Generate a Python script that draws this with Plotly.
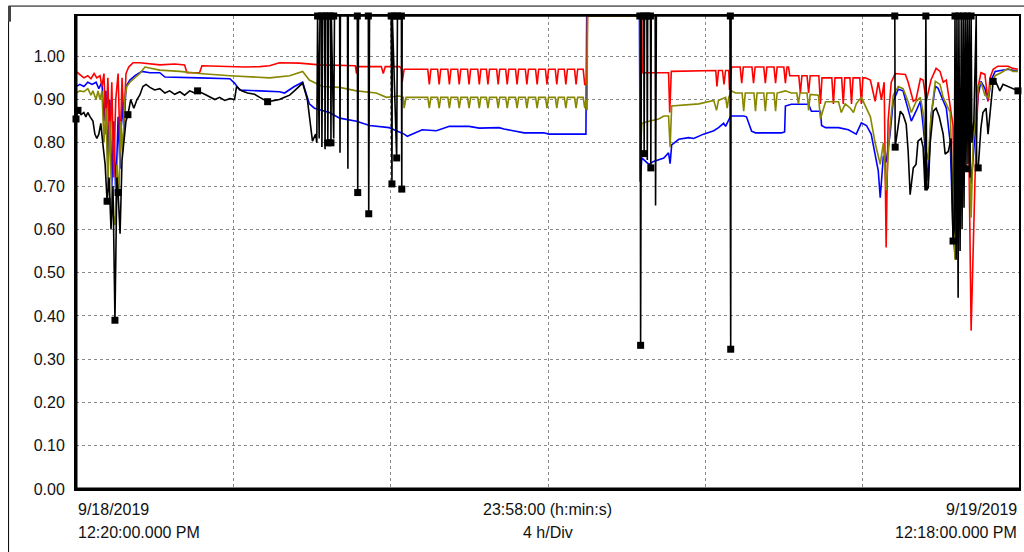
import plotly.graph_objects as go

# time in hours since 9/18/2019 12:20:00 PM, value
red = [
    (0.00,0.965),(0.10,0.958),(0.20,0.950),(0.30,0.955),(0.38,0.948),(0.46,0.960),(0.53,0.950),(0.61,0.955),
    (0.66,0.930),(0.71,0.960),(0.76,0.820),(0.81,0.950),(0.86,0.780),(0.91,0.940),(0.96,0.720),(1.01,0.900),
    (1.07,0.960),(1.12,0.780),(1.17,0.950),(1.22,0.850),(1.27,0.960),(1.34,0.975),(1.45,0.985),(1.62,0.985),
    (1.88,0.983),(2.13,0.980),(2.51,0.982),(2.76,0.980),(2.82,0.962),(3.14,0.962),(3.20,0.978),(3.91,0.976),
    (4.29,0.975),(4.67,0.976),(4.92,0.978),(5.17,0.985),(5.68,0.984),(6.19,0.980),(6.70,0.978),(7.10,0.978),
    (7.13,0.960),(7.15,0.976),(7.76,0.976),(7.81,0.960),(7.86,0.976),(8.22,0.976),(8.27,0.972),(8.29,0.940),
    (8.34,0.970),
    (8.94,0.970),(8.98,0.935),(9.02,0.970),(9.19,0.970),(9.23,0.935),(9.27,0.970),
    (9.45,0.970),(9.49,0.935),(9.53,0.970),(9.70,0.970),(9.74,0.935),(9.78,0.970),
    (9.95,0.970),(9.99,0.935),(10.03,0.970),(10.21,0.970),(10.25,0.935),(10.29,0.970),
    (10.43,0.970),(10.47,0.935),(10.51,0.970),(10.69,0.970),(10.73,0.935),(10.77,0.970),
    (10.92,0.970),(10.96,0.935),(11.00,0.970),(11.17,0.970),(11.21,0.935),(11.25,0.970),
    (11.42,0.970),(11.46,0.935),(11.50,0.970),(11.68,0.970),(11.72,0.935),(11.76,0.970),
    (11.93,0.970),(11.97,0.935),(12.01,0.970),(12.18,0.970),(12.22,0.935),(12.26,0.970),
    (12.41,0.970),(12.45,0.935),(12.49,0.970),(12.67,0.970),(12.71,0.935),(12.75,0.970),
    (12.89,0.970),(12.93,0.935),(12.98,0.935),(13.00,1.093),
    (14.38,1.093),(14.39,0.962),(15.06,0.962),(15.09,0.870),(15.13,0.965),(16.26,0.967),(16.29,0.930),
    (16.33,0.967),(16.43,0.967),(16.47,0.935),(16.51,0.967),(16.59,0.967),(16.61,0.922),(16.66,0.975),
    (16.88,0.975),(16.92,0.938),(16.96,0.975),(17.18,0.975),(17.22,0.938),(17.26,0.975),
    (17.48,0.975),(17.52,0.938),(17.56,0.975),(17.74,0.975),(17.78,0.938),(17.82,0.975),
    (17.99,0.975),(18.03,0.938),(18.07,0.975),(18.11,0.975),(18.14,0.955),
    (18.37,0.955),(18.41,0.915),(18.45,0.955),(18.58,0.955),(18.62,0.915),(18.66,0.955),
    (18.88,0.955),(18.92,0.890),(18.96,0.950),(19.21,0.950),(19.25,0.890),(19.29,0.950),
    (19.46,0.950),(19.50,0.890),(19.54,0.950),(19.67,0.950),(19.71,0.890),(19.75,0.950),
    (19.92,0.950),(19.96,0.890),(20.00,0.950),
    (20.06,0.950),(20.19,0.945),(20.31,0.896),(20.39,0.940),(20.47,0.900),(20.54,0.940),(20.59,0.558),
    (20.64,0.850),(20.72,0.940),(20.82,0.960),(21.08,0.958),(21.15,0.940),(21.28,0.896),(21.35,0.900),
    (21.46,0.948),(21.53,0.945),(21.61,0.896),(21.73,0.945),(21.86,0.972),(21.96,0.965),(22.04,0.940),
    (22.12,0.945),(22.22,0.880),(22.29,0.840),(22.34,0.535),(22.42,0.840),(22.50,0.665),(22.60,0.896),
    (22.67,0.950),(22.75,0.366),(22.85,0.720),(22.93,0.930),(23.00,0.962),(23.10,0.958),(23.18,0.896),
    (23.23,0.950),(23.31,0.970),(23.43,0.977),(23.69,0.977),(23.81,0.972),(23.94,0.970),
]

olive = [
    (0.00,0.915),(0.10,0.920),(0.20,0.918),(0.30,0.925),(0.38,0.910),(0.43,0.920),(0.51,0.900),(0.56,0.920),
    (0.61,0.900),(0.66,0.920),(0.71,0.800),(0.76,0.880),(0.81,0.700),(0.86,0.850),(0.91,0.650),(0.99,0.610),
    (1.04,0.750),(1.09,0.680),(1.14,0.850),(1.19,0.780),(1.24,0.900),(1.29,0.930),(1.37,0.940),(1.50,0.950),
    (1.62,0.960),(1.75,0.975),(1.88,0.972),(2.13,0.968),(2.64,0.965),(3.14,0.960),(3.91,0.955),(4.41,0.952),
    (4.92,0.950),(5.43,0.955),(5.68,0.962),(5.76,0.965),(5.93,0.945),(6.26,0.930),(6.70,0.928),(7.13,0.920),
    (7.63,0.915),(7.89,0.905),(8.22,0.908),(8.32,0.905),(8.34,0.880),(8.39,0.905),
    (8.94,0.905),(8.98,0.880),(9.02,0.905),(9.19,0.905),(9.23,0.880),(9.27,0.905),
    (9.45,0.905),(9.49,0.880),(9.53,0.905),(9.70,0.905),(9.74,0.880),(9.78,0.905),
    (9.95,0.905),(9.99,0.880),(10.03,0.905),(10.21,0.905),(10.25,0.880),(10.29,0.905),
    (10.43,0.905),(10.47,0.880),(10.51,0.905),(10.69,0.905),(10.73,0.880),(10.77,0.905),
    (10.92,0.905),(10.96,0.880),(11.00,0.905),(11.17,0.905),(11.21,0.880),(11.25,0.905),
    (11.42,0.905),(11.46,0.880),(11.50,0.905),(11.68,0.905),(11.72,0.880),(11.76,0.905),
    (11.93,0.905),(11.97,0.880),(12.01,0.905),(12.18,0.905),(12.22,0.880),(12.26,0.905),
    (12.41,0.905),(12.45,0.880),(12.49,0.905),(12.67,0.905),(12.71,0.880),(12.75,0.905),
    (12.89,0.905),(12.93,0.880),(12.96,0.900),(12.99,0.875),(13.00,1.093),
    (14.33,1.093),(14.34,0.765),(14.38,0.845),(14.56,0.850),(14.81,0.855),(14.94,0.862),(15.06,0.862),
    (15.10,0.790),(15.14,0.885),(15.83,0.890),(16.21,0.898),(16.28,0.875),(16.33,0.898),(16.51,0.905),
    (16.55,0.880),(16.59,0.905),(16.66,0.920),(16.76,0.915),
    (16.93,0.915),(16.97,0.873),(17.01,0.915),(17.23,0.915),(17.27,0.873),(17.31,0.915),
    (17.48,0.915),(17.52,0.873),(17.56,0.915),(17.74,0.915),(17.78,0.873),(17.82,0.915),
    (18.03,0.920),(18.18,0.915),(18.32,0.915),(18.36,0.890),(18.40,0.915),(18.58,0.915),(18.62,0.875),
    (18.66,0.912),(18.87,0.910),(18.92,0.855),(19.05,0.895),(19.38,0.895),(19.45,0.870),(19.55,0.890),
    (19.68,0.880),(19.76,0.870),(19.83,0.890),(19.96,0.905),(20.06,0.885),(20.19,0.860),(20.31,0.800),
    (20.44,0.750),(20.52,0.800),(20.59,0.690),(20.69,0.840),(20.77,0.910),(20.90,0.930),(21.02,0.925),
    (21.15,0.895),(21.23,0.870),(21.35,0.895),(21.46,0.905),(21.53,0.870),(21.61,0.780),(21.66,0.760),
    (21.73,0.860),(21.84,0.942),(21.96,0.935),(22.04,0.905),(22.12,0.890),(22.22,0.870),(22.29,0.665),
    (22.34,0.530),(22.42,0.620),(22.50,0.780),(22.60,0.920),(22.67,0.905),(22.75,0.627),(22.80,0.800),
    (22.93,0.930),(23.00,0.940),(23.10,0.910),(23.18,0.905),(23.26,0.940),(23.36,0.955),(23.51,0.962),
    (23.69,0.972),(23.81,0.965),(23.94,0.965),
]

blue = [
    (0.00,0.930),(0.10,0.935),(0.20,0.930),(0.30,0.940),(0.41,0.935),(0.51,0.940),(0.58,0.925),(0.66,0.940),
    (0.71,0.850),(0.76,0.920),(0.81,0.750),(0.86,0.900),(0.91,0.700),(0.96,0.850),(1.01,0.680),(1.07,0.860),
    (1.12,0.740),(1.17,0.900),(1.22,0.830),(1.27,0.930),(1.37,0.945),(1.50,0.955),(1.67,0.965),(1.88,0.962),
    (2.13,0.962),(2.26,0.952),(3.14,0.950),(3.91,0.948),(4.03,0.938),(4.16,0.922),(4.67,0.920),(5.17,0.918),
    (5.30,0.915),(5.55,0.930),(5.76,0.940),(5.83,0.920),(5.93,0.890),(6.06,0.880),(6.44,0.870),(6.70,0.857),
    (7.13,0.850),(7.46,0.840),(7.96,0.835),(8.34,0.820),(8.42,0.815),(8.80,0.830),(9.16,0.828),(9.49,0.838),
    (9.99,0.838),(10.25,0.834),(10.75,0.835),(10.88,0.832),(11.39,0.823),(11.89,0.823),(12.02,0.820),
    (12.96,0.820),(12.98,1.093),
    (14.32,1.093),(14.34,0.710),(14.38,0.765),(14.56,0.750),(14.68,0.757),(14.94,0.765),(15.06,0.777),
    (15.10,0.752),(15.14,0.795),(15.32,0.808),(15.57,0.812),(15.70,0.810),(15.95,0.820),(16.21,0.828),
    (16.33,0.835),(16.46,0.845),(16.51,0.838),(16.64,0.862),(16.97,0.862),(17.04,0.860),(17.17,0.827),
    (17.27,0.823),(17.93,0.823),(18.01,0.825),(18.03,0.885),(18.18,0.889),(18.62,0.889),(18.69,0.873),
    (18.92,0.873),(18.95,0.840),(19.05,0.835),(19.38,0.835),(19.63,0.830),(19.83,0.820),(19.96,0.846),
    (20.09,0.840),(20.21,0.820),(20.31,0.775),(20.39,0.735),(20.44,0.673),(20.52,0.770),(20.59,0.755),
    (20.69,0.820),(20.77,0.896),(20.90,0.924),(21.02,0.920),(21.15,0.873),(21.23,0.850),(21.35,0.873),
    (21.46,0.896),(21.53,0.840),(21.61,0.750),(21.66,0.712),(21.73,0.860),(21.84,0.931),(21.91,0.926),
    (22.04,0.896),(22.12,0.880),(22.22,0.800),(22.29,0.590),(22.34,0.543),(22.42,0.590),(22.50,0.665),
    (22.60,0.860),(22.67,0.896),(22.75,0.705),(22.85,0.820),(22.93,0.910),(23.00,0.942),(23.10,0.926),
    (23.18,0.896),(23.26,0.945),(23.36,0.965),(23.51,0.967),(23.69,0.970),(23.94,0.965),
]

black = [
    (0.00,0.855),(0.05,0.875),(0.13,0.865),(0.20,0.870),(0.25,0.860),(0.30,0.870),(0.36,0.860),(0.43,0.850),
    (0.48,0.820),(0.53,0.810),(0.58,0.820),(0.63,0.845),(0.68,0.800),(0.74,0.750),(0.79,0.665),(0.84,0.720),
    (0.89,0.600),(0.94,0.700),(0.99,0.390),(1.04,0.720),(1.07,0.685),(1.12,0.590),(1.17,0.760),(1.22,0.800),
    (1.27,0.850),(1.32,0.865),(1.39,0.900),(1.47,0.880),(1.55,0.900),(1.62,0.910),(1.70,0.930),(1.78,0.935),
    (1.88,0.928),(2.00,0.922),(2.13,0.925),(2.26,0.915),(2.38,0.920),(2.51,0.912),(2.64,0.918),(2.76,0.910),
    (2.89,0.920),(3.02,0.915),(3.09,0.920),(3.27,0.912),(3.40,0.905),(3.53,0.900),(3.65,0.905),(3.78,0.898),
    (3.91,0.902),(4.03,0.900),(4.08,0.930),(4.21,0.920),(4.36,0.915),(4.54,0.912),(4.67,0.905),(4.79,0.900),
    (4.87,0.895),(5.05,0.898),(5.17,0.900),(5.30,0.905),(5.43,0.910),(5.55,0.920),(5.68,0.930),(5.76,0.938),
    (5.88,0.900),(5.96,0.840),(6.01,0.804),(6.09,0.820),(6.12,0.800),
    (6.14,1.093),(6.18,0.810),(6.20,1.093),(6.24,1.093),(6.25,0.790),(6.27,1.093),(6.32,1.093),(6.33,0.785),
    (6.34,1.093),(6.39,1.093),(6.40,0.800),(6.42,1.093),(6.47,1.093),(6.48,0.800),(6.49,1.093),(6.55,0.810),
    (6.57,1.093),(6.70,1.093),(6.71,0.777),(6.72,1.093),(6.90,1.093),(6.91,0.740),(6.92,1.093),(7.15,1.093),
    (7.16,0.685),(7.18,1.093),(7.43,1.093),(7.44,0.636),(7.46,1.093),(8.01,1.093),(8.03,0.705),(8.04,1.093),
    (8.15,0.765),(8.17,1.093),(8.27,1.093),(8.28,0.693),(8.29,1.093),
    (14.34,1.093),(14.35,0.332),(14.37,1.093),(14.43,1.093),(14.44,0.775),(14.45,1.093),(14.51,1.093),
    (14.52,0.760),(14.53,1.093),(14.60,1.093),(14.61,0.742),(14.62,1.093),(14.72,1.093),(14.73,0.655),
    (14.75,1.093),(16.62,1.093),(16.64,0.323),(16.65,1.093),(20.81,1.093),(20.82,0.790),
    (20.95,0.873),(21.02,0.865),(21.10,0.843),(21.15,0.780),(21.20,0.680),(21.28,0.742),(21.35,0.750),
    (21.40,0.804),(21.48,0.810),(21.53,0.790),(21.58,0.690),(21.60,1.093),(21.62,0.690),(21.66,0.696),
    (21.71,0.800),(21.79,0.873),(21.86,0.880),(21.94,0.860),(22.04,0.820),(22.09,0.774),(22.17,0.780),
    (22.24,0.810),(22.29,0.573),(22.32,0.600),(22.34,1.093),(22.37,0.530),(22.39,1.093),(22.42,0.442),
    (22.44,1.093),(22.47,0.550),(22.50,1.093),(22.52,0.600),(22.55,1.093),(22.57,0.650),(22.60,1.093),
    (22.62,0.740),(22.65,1.093),(22.67,0.750),(22.70,1.093),(22.72,0.720),(22.75,1.093),(22.77,0.800),
    (22.82,0.850),(22.88,1.093),(22.89,0.745),(22.93,0.742),(23.00,0.835),(23.05,0.870),(23.13,0.880),
    (23.18,0.820),(23.23,0.870),(23.31,0.942),(23.38,0.940),(23.48,0.920),(23.56,0.935),(23.69,0.930),
    (23.81,0.926),(23.94,0.920),
]

black_marked = [
    (0.00,0.855),(0.05,0.875),(0.79,0.665),(0.99,0.390),(1.07,0.685),(1.32,0.865),(3.09,0.920),(4.87,0.895),
    (6.14,1.093),(6.24,1.093),(6.32,1.093),(6.39,1.093),(6.47,1.093),(6.55,1.093),(6.40,0.800),(6.48,0.800),
    (7.15,1.093),(7.16,0.685),(7.43,1.093),(7.44,0.636),(8.01,1.093),(8.09,1.093),(8.17,1.093),(8.27,1.093),
    (8.03,0.705),(8.15,0.765),(8.28,0.693),
    (14.33,1.093),(14.43,1.093),(14.51,1.093),(14.60,1.093),(14.35,0.332),(14.44,0.775),(14.61,0.742),
    (16.63,1.093),(16.64,0.323),(20.81,1.093),(20.82,0.790),(21.60,1.093),
    (22.29,0.573),(22.34,1.093),(22.44,1.093),(22.55,1.093),(22.62,0.740),(22.65,1.093),(22.75,1.093),
    (22.93,0.742),(23.31,0.942),(23.94,0.920),
]

y_ticks = [0.0, 0.1, 0.2, 0.3, 0.4, 0.5, 0.6, 0.7, 0.8, 0.9, 1.0]
x_span_hours = 23.967
y_top = 1.093
start_label = ["9/18/2019", "12:20:00.000 PM"]
mid_label = ["23:58:00 (h:min:s)", "4 h/Div"]
end_label = ["9/19/2019", "12:18:00.000 PM"]

FONT = "Liberation Sans, Arial, sans-serif"

def xs(pts):
    return [p[0] for p in pts]

def ys(pts):
    return [p[1] for p in pts]

fig = go.Figure()
for pts, col in [(blue, "#0000FF"), (red, "#FF0000"), (olive, "#878700"), (black, "#000000")]:
    fig.add_trace(go.Scatter(x=xs(pts), y=ys(pts), mode="lines",
                             line=dict(color=col, width=1.6), showlegend=False, hoverinfo="skip"))
fig.add_trace(go.Scatter(x=xs(black_marked), y=ys(black_marked), mode="markers",
                         marker=dict(symbol="square", size=7, color="#000000"),
                         cliponaxis=False, showlegend=False, hoverinfo="skip"))

fig.update_layout(
    width=1024, height=552,
    margin=dict(l=76, r=3, t=16, b=63, pad=0),
    paper_bgcolor="white", plot_bgcolor="white",
    font=dict(family=FONT, size=16, color="#111"),
    xaxis=dict(range=[0, x_span_hours], tick0=0, dtick=4, showticklabels=False, ticks="",
               showgrid=True, gridcolor="#8a8a8a", griddash="dot", gridwidth=1, zeroline=False,
               showline=True, mirror=True, linecolor="black", linewidth=2),
    yaxis=dict(range=[0, y_top], tickvals=y_ticks, tickformat=".2f", ticks="",
               ticklabelstandoff=6,
               showgrid=True, gridcolor="#8a8a8a", griddash="dot", gridwidth=1, zeroline=False,
               showline=True, mirror=True, linecolor="black", linewidth=2,
               tickfont=dict(family=FONT, size=16, color="#111")),
)

# thicker left/bottom axis lines and outer frame
fig.add_shape(type="line", xref="paper", yref="paper", x0=0, x1=0, y0=0, y1=1,
              line=dict(color="black", width=3), layer="above")
fig.add_shape(type="line", xref="paper", yref="paper", x0=0, x1=1, y0=0, y1=0,
              line=dict(color="black", width=3), layer="above")
fig.add_shape(type="line", xref="paper", yref="paper", x0=-0.0715, x1=1.01, y0=1.021, y1=1.021,
              line=dict(color="black", width=1), layer="above")
fig.add_shape(type="line", xref="paper", yref="paper", x0=-0.0715, x1=-0.0715, y0=1.021, y1=-0.14,
              line=dict(color="black", width=1), layer="above")
fig.add_shape(type="line", xref="paper", yref="paper", x0=-0.0705, x1=-0.0705, y0=1.021, y1=0.988,
              line=dict(color="#444", width=3), layer="above")

def add_label(lines, x, anchor):
    for txt, yy in zip(lines, [-0.0433, -0.092]):
        fig.add_annotation(text=txt, xref="paper", yref="paper", x=x, y=yy,
                           xanchor=anchor, yanchor="middle", showarrow=False,
                           font=dict(family=FONT, size=16, color="#111"))

add_label(start_label, 0, "left")
add_label(mid_label, 0.5, "center")
add_label(end_label, 1, "right")

fig.write_html("out.html", config={"displayModeBar": False},
               post_script="document.body.style.margin='0';document.body.style.overflow='hidden';")
